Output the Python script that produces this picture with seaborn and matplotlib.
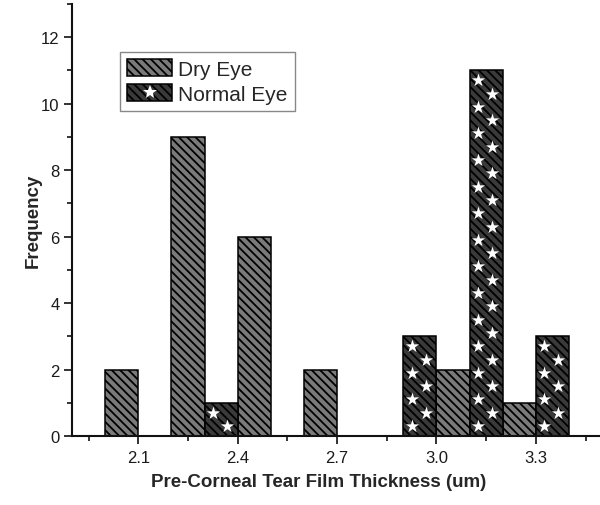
import numpy as np
import matplotlib
matplotlib.use("Agg")
import matplotlib.pyplot as plt
from matplotlib.patches import Patch
from matplotlib.lines import Line2D
from matplotlib.legend_handler import HandlerTuple
from matplotlib.ticker import AutoMinorLocator
import seaborn as sns

# bin centres (um) and frequencies, bins are 0.1 um wide
dry_thickness = [2.05, 2.25, 2.45, 2.65, 3.05, 3.25]
dry_counts = [2, 9, 6, 2, 2, 1]
normal_thickness = [2.35, 2.95, 3.15, 3.35]
normal_counts = [1, 3, 11, 3]

x_ticks = [2.1, 2.4, 2.7, 3.0, 3.3]
y_ticks = [0, 2, 4, 6, 8, 10, 12]

DRY_COLOR = "#7a7a7a"
NORMAL_COLOR = "#3a3a3a"
BIN_W = 0.1

sns.set_theme(style="ticks")
plt.rcParams["font.family"] = ["Liberation Sans", "DejaVu Sans"]
plt.rcParams["hatch.linewidth"] = 1.3
plt.rcParams["hatch.color"] = "black"
plt.rcParams["xtick.labelsize"] = 12
plt.rcParams["ytick.labelsize"] = 12

fig = plt.figure(figsize=(6, 5.06), dpi=100)
ax = fig.add_axes([0.12, 0.1364, 0.878, 0.854])


def draw_hist(values, counts, color):
    n_before = len(ax.patches)
    sns.histplot(x=values, weights=counts, binwidth=BIN_W, binrange=(1.9, 3.5),
                 color=color, edgecolor="black", linewidth=1.1, alpha=1,
                 hatch="\\\\\\\\", ax=ax, zorder=2)
    # drop the empty bins
    for p in ax.patches[n_before:]:
        if p.get_height() == 0:
            p.remove()


draw_hist(dry_thickness, dry_counts, DRY_COLOR)
draw_hist(normal_thickness, normal_counts, NORMAL_COLOR)

# white stars inside the normal eye bars, staggered in two columns
star_x, star_y = [], []
for centre, count in zip(normal_thickness, normal_counts):
    left = centre - BIN_W / 2
    y = count - 0.3
    i = 0
    while y > 0.2:
        star_x.append(left + (0.26 if i % 2 == 0 else 0.68) * BIN_W)
        star_y.append(y)
        y -= 0.4
        i += 1
ax.scatter(star_x, star_y, marker="*", s=100, color="white", linewidths=0, zorder=3)

ax.set_xlim(1.9, 3.49)
ax.set_ylim(0, 13)
ax.set_xticks(x_ticks, [f"{t:.1f}" for t in x_ticks], fontsize=12)
ax.set_yticks(y_ticks, [str(t) for t in y_ticks], fontsize=12)
ax.xaxis.set_minor_locator(AutoMinorLocator(2))
ax.yaxis.set_minor_locator(AutoMinorLocator(2))

for side in ["top", "right"]:
    ax.spines[side].set_visible(False)
for side in ["left", "bottom"]:
    ax.spines[side].set_linewidth(1.5)
    ax.spines[side].set_color("#111111")

ax.tick_params(which="major", length=6, width=1.2, color="#111111", labelcolor="#1a1a1a")
ax.tick_params(which="minor", length=3.8, width=1.2, color="#111111")
ax.tick_params(axis="x", which="major", pad=4)
ax.tick_params(axis="y", which="major", pad=3)

ax.set_xlabel("Pre-Corneal Tear Film Thickness (um)", fontsize=13.5, fontweight="bold")
ax.set_ylabel("Frequency", fontsize=13.5, fontweight="bold")
ax.xaxis.set_label_coords(0.469, -0.086)
ax.yaxis.set_label_coords(-0.057, 0.5)

dry_handle = Patch(facecolor=DRY_COLOR, edgecolor="black", linewidth=1.1, hatch="\\\\\\\\")
normal_handle = (Patch(facecolor=NORMAL_COLOR, edgecolor="black", linewidth=1.1, hatch="\\\\\\\\"),
                 Line2D([], [], marker="*", linestyle="", color="white", markersize=10, markeredgewidth=0))
leg = ax.legend([dry_handle, normal_handle], ["Dry Eye", "Normal Eye"],
                handler_map={tuple: HandlerTuple(ndivide=1)},
                loc="upper left", bbox_to_anchor=(0.091, 0.889), borderaxespad=0,
                fontsize=15, handlelength=2.15, handleheight=0.85, handletextpad=0.3,
                labelspacing=0.28, borderpad=0.35, fancybox=False, framealpha=1)
leg.get_frame().set_edgecolor("#888888")
leg.get_frame().set_linewidth(1.0)

fig.savefig("out.png", dpi=100)
